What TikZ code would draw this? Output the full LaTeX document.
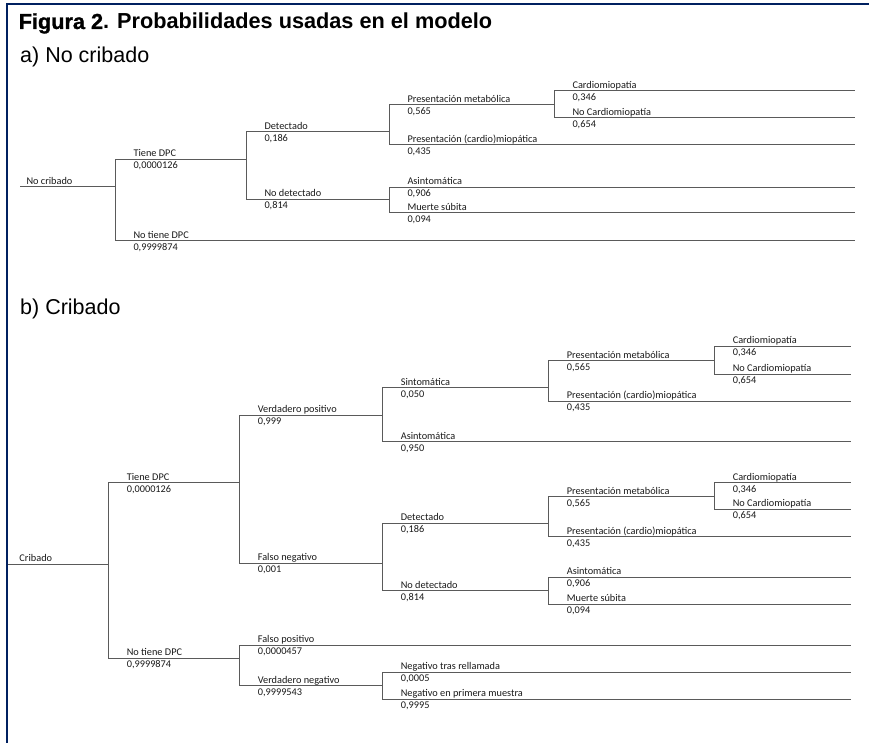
\documentclass[tikz,border=0pt]{standalone}
\usepackage{fontspec}
\newfontfamily\arial{Liberation Sans}
\newfontfamily\arialnegra{Liberation Sans Bold}[FakeBold=1.2]
\newfontfamily\carlito{Carlito}
\definecolor{borde}{RGB}{0,32,96}
\definecolor{linea}{RGB}{90,90,90}
\definecolor{texto}{RGB}{25,25,25}
\begin{document}
\begin{tikzpicture}[
                x=1pt, y=-1pt,
                rama/.style={draw=linea, line width=1pt, line cap=rect},
                nombre/.style={anchor=base west, inner sep=0pt, xshift=18pt, yshift=2.5pt,
                        text=texto, font=\carlito\fontsize{10.3}{12}\selectfont},
                prob/.style={anchor=base west, inner sep=0pt, xshift=18pt, yshift=-9.5pt,
                        text=texto, font=\carlito\fontsize{10.3}{12}\selectfont},
                seccion/.style={anchor=base west, inner sep=0pt, font=\arial\fontsize{21.5}{24}\selectfont}
            ]
            \useasboundingbox (0,0) rectangle (869,743);
            \draw[borde, line width=2.3pt] (6.7,743) -- (6.7,3.8) -- (869,3.8);

            \node[anchor=base west, inner sep=0pt] (titulo) at (18.5,29)
                {\arialnegra\fontsize{21.7}{24}\selectfont Figura 2\arial\bfseries. Probabilidades usadas en el modelo};
            \node[seccion] (secA) at (20,63) {a) No cribado};
            \node[seccion] (secB) at (20,314) {b) Cribado};

            \coordinate (finA) at (854,0);
            \coordinate (finB) at (850,0);

            % a) No cribado
            \coordinate (aR) at (20,186.7);
            \coordinate (aT) at (115,159.5);
            \coordinate (aN) at (115,240.7);
            \coordinate (aD) at (246,131.7);
            \coordinate (aND) at (246,199.3);
            \coordinate (aPM) at (389,105);
            \coordinate (aPC) at (389,145);
            \coordinate (aC) at (554,91);
            \coordinate (aNC) at (554,117.7);
            \coordinate (aA) at (389,187.3);
            \coordinate (aM) at (389,212.7);

            \draw[rama] (aR) -- (aR -| aT) node[nombre, pos=0, xshift=-12pt] (aRn) {No cribado};
            \draw[rama] (aT) -- (aT -| aD) node[nombre, pos=0] (aTn) {Tiene DPC} node[prob, pos=0] (aTp) {0,0000126};
            \draw[rama] (aN) -- (aN -| finA) node[nombre, pos=0] (aNn) {No tiene DPC} node[prob, pos=0] (aNp) {0,9999874};
            \draw[rama] (aD) -- (aD -| aPM) node[nombre, pos=0] (aDn) {Detectado} node[prob, pos=0] (aDp) {0,186};
            \draw[rama] (aND) -- (aND -| aA) node[nombre, pos=0] (aNDn) {No detectado} node[prob, pos=0] (aNDp) {0,814};
            \draw[rama] (aPM) -- (aPM -| aC) node[nombre, pos=0] (aPMn) {Presentación metabólica} node[prob, pos=0] (aPMp) {0,565};
            \draw[rama] (aPC) -- (aPC -| finA) node[nombre, pos=0] (aPCn) {Presentación (cardio)miopática} node[prob, pos=0] (aPCp) {0,435};
            \draw[rama] (aC) -- (aC -| finA) node[nombre, pos=0] (aCn) {Cardiomiopatía} node[prob, pos=0] (aCp) {0,346};
            \draw[rama] (aNC) -- (aNC -| finA) node[nombre, pos=0] (aNCn) {No Cardiomiopatía} node[prob, pos=0] (aNCp) {0,654};
            \draw[rama] (aA) -- (aA -| finA) node[nombre, pos=0] (aAn) {Asintomática} node[prob, pos=0] (aAp) {0,906};
            \draw[rama] (aM) -- (aM -| finA) node[nombre, pos=0] (aMn) {Muerte súbita} node[prob, pos=0] (aMp) {0,094};

            \draw[rama] (aT) -- (aN);
            \draw[rama] (aD) -- (aND);
            \draw[rama] (aPM) -- (aPC);
            \draw[rama] (aC) -- (aNC);
            \draw[rama] (aA) -- (aM);

            % b) Cribado
            \coordinate (bR) at (8,564);
            \coordinate (bT) at (108.3,482.7);
            \coordinate (bN) at (108.3,658.3);
            \coordinate (bVP) at (239.3,415);
            \coordinate (bFN) at (239.3,563.3);
            \coordinate (bS) at (382.3,387.5);
            \coordinate (bA) at (382.3,441.5);
            \coordinate (bPM) at (548.3,360.7);
            \coordinate (bPC) at (548.3,401);
            \coordinate (bC) at (714.3,346);
            \coordinate (bNC) at (714.3,374);
            \coordinate (bD) at (382.3,523);
            \coordinate (bND) at (382.3,590.7);
            \coordinate (bPM2) at (548.3,496.7);
            \coordinate (bPC2) at (548.3,536.7);
            \coordinate (bC2) at (714.3,482.7);
            \coordinate (bNC2) at (714.3,509.3);
            \coordinate (bAs) at (548.3,577.3);
            \coordinate (bMS) at (548.3,604);
            \coordinate (bFP) at (239.3,645);
            \coordinate (bVN) at (239.3,685.7);
            \coordinate (bNR) at (382.3,672.3);
            \coordinate (bNP) at (382.3,699);

            \draw[rama] (bR) -- (bR -| bT) node[nombre, pos=0, xshift=-7pt] (bRn) {Cribado};
            \draw[rama] (bT) -- (bT -| bVP) node[nombre, pos=0] (bTn) {Tiene DPC} node[prob, pos=0] (bTp) {0,0000126};
            \draw[rama] (bN) -- (bN -| bFP) node[nombre, pos=0] (bNn) {No tiene DPC} node[prob, pos=0] (bNp) {0,9999874};
            \draw[rama] (bVP) -- (bVP -| bS) node[nombre, pos=0] (bVPn) {Verdadero positivo} node[prob, pos=0] (bVPp) {0,999};
            \draw[rama] (bFN) -- (bFN -| bD) node[nombre, pos=0] (bFNn) {Falso negativo} node[prob, pos=0] (bFNp) {0,001};
            \draw[rama] (bS) -- (bS -| bPM) node[nombre, pos=0] (bSn) {Sintomática} node[prob, pos=0] (bSp) {0,050};
            \draw[rama] (bA) -- (bA -| finB) node[nombre, pos=0] (bAn) {Asintomática} node[prob, pos=0] (bAp) {0,950};
            \draw[rama] (bPM) -- (bPM -| bC) node[nombre, pos=0] (bPMn) {Presentación metabólica} node[prob, pos=0] (bPMp) {0,565};
            \draw[rama] (bPC) -- (bPC -| finB) node[nombre, pos=0] (bPCn) {Presentación (cardio)miopática} node[prob, pos=0] (bPCp) {0,435};
            \draw[rama] (bC) -- (bC -| finB) node[nombre, pos=0] (bCn) {Cardiomiopatía} node[prob, pos=0] (bCp) {0,346};
            \draw[rama] (bNC) -- (bNC -| finB) node[nombre, pos=0] (bNCn) {No Cardiomiopatía} node[prob, pos=0] (bNCp) {0,654};
            \draw[rama] (bD) -- (bD -| bPM2) node[nombre, pos=0] (bDn) {Detectado} node[prob, pos=0] (bDp) {0,186};
            \draw[rama] (bND) -- (bND -| bAs) node[nombre, pos=0] (bNDn) {No detectado} node[prob, pos=0] (bNDp) {0,814};
            \draw[rama] (bPM2) -- (bPM2 -| bC2) node[nombre, pos=0] (bPM2n) {Presentación metabólica} node[prob, pos=0] (bPM2p) {0,565};
            \draw[rama] (bPC2) -- (bPC2 -| finB) node[nombre, pos=0] (bPC2n) {Presentación (cardio)miopática} node[prob, pos=0] (bPC2p) {0,435};
            \draw[rama] (bC2) -- (bC2 -| finB) node[nombre, pos=0] (bC2n) {Cardiomiopatía} node[prob, pos=0] (bC2p) {0,346};
            \draw[rama] (bNC2) -- (bNC2 -| finB) node[nombre, pos=0] (bNC2n) {No Cardiomiopatía} node[prob, pos=0] (bNC2p) {0,654};
            \draw[rama] (bAs) -- (bAs -| finB) node[nombre, pos=0] (bAsn) {Asintomática} node[prob, pos=0] (bAsp) {0,906};
            \draw[rama] (bMS) -- (bMS -| finB) node[nombre, pos=0] (bMSn) {Muerte súbita} node[prob, pos=0] (bMSp) {0,094};
            \draw[rama] (bFP) -- (bFP -| finB) node[nombre, pos=0] (bFPn) {Falso positivo} node[prob, pos=0] (bFPp) {0,0000457};
            \draw[rama] (bVN) -- (bVN -| bNR) node[nombre, pos=0] (bVNn) {Verdadero negativo} node[prob, pos=0] (bVNp) {0,9999543};
            \draw[rama] (bNR) -- (bNR -| finB) node[nombre, pos=0] (bNRn) {Negativo tras rellamada} node[prob, pos=0] (bNRp) {0,0005};
            \draw[rama] (bNP) -- (bNP -| finB) node[nombre, pos=0] (bNPn) {Negativo en primera muestra} node[prob, pos=0] (bNPp) {0,9995};

            \draw[rama] (bT) -- (bN);
            \draw[rama] (bVP) -- (bFN);
            \draw[rama] (bS) -- (bA);
            \draw[rama] (bPM) -- (bPC);
            \draw[rama] (bC) -- (bNC);
            \draw[rama] (bD) -- (bND);
            \draw[rama] (bPM2) -- (bPC2);
            \draw[rama] (bC2) -- (bNC2);
            \draw[rama] (bAs) -- (bMS);
            \draw[rama] (bFP) -- (bVN);
            \draw[rama] (bNR) -- (bNP);

        \end{tikzpicture}
\end{document}
